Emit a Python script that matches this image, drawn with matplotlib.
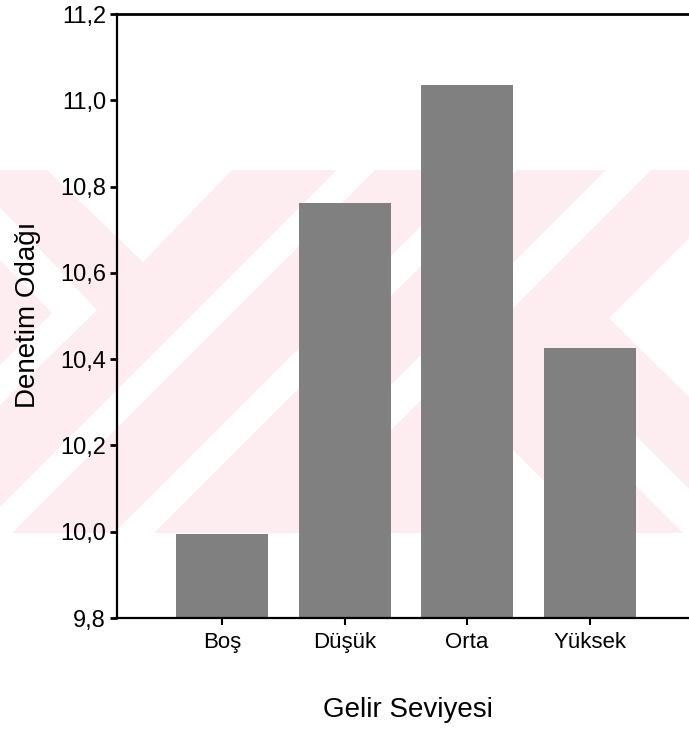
import matplotlib
matplotlib.use('Agg')
import matplotlib.pyplot as plt
from matplotlib.patches import Polygon, Rectangle

# data
categories = ['Boş', 'Düşük', 'Orta', 'Yüksek']
means = [9.994, 10.761, 11.035, 10.425]
yticks = [9.8, 10.0, 10.2, 10.4, 10.6, 10.8, 11.0, 11.2]
ytick_labels = ['9,8', '10,0', '10,2', '10,4', '10,6', '10,8', '11,0', '11,2']

plt.rcParams['font.family'] = ['Liberation Sans', 'DejaVu Sans']

fig = plt.figure(figsize=(6.89, 7.29), dpi=100)

# faint watermark behind the chart (pixel coordinates)
bg = fig.add_axes([0, 0, 1, 1], zorder=0)
bg.set_xlim(0, 689)
bg.set_ylim(729, 0)
bg.axis('off')
pink = '#fdedf0'
bg.add_patch(Rectangle((0, 170), 689, 363, color=pink, lw=0))
white_shapes = [
    [(47, 170), (232, 170), (143, 262)],
    [(0, 207), (97, 310), (0, 405)],
    [(337, 170), (375, 170), (12, 533), (0, 533), (0, 507)],
    [(477, 170), (517, 170), (154, 533), (114, 533)],
    [(606, 170), (651, 170), (320, 501), (320, 456)],
    [(609, 318), (689, 238), (689, 397)],
    [(555, 355), (689, 489), (689, 533), (683, 533), (555, 405)],
    [(500, 437), (596, 533), (500, 533)],
]
for pts in white_shapes:
    bg.add_patch(Polygon(pts, closed=True, color='white', lw=0))
bg.add_patch(Polygon([(0, 260), (52, 313), (0, 365)], closed=True, color=pink, lw=0))

ax = fig.add_axes([117 / 689, 1 - 618 / 729, 1 - 117 / 689, (618 - 14) / 729], zorder=1)
ax.patch.set_alpha(0)

x = list(range(len(categories)))
ax.bar(x, means, width=0.752, color='#808080', zorder=2)

ax.set_ylim(9.8, 11.2)
ax.set_xlim(-0.862, 3.813)
ax.set_yticks(yticks)
ax.set_yticklabels(ytick_labels)
ax.set_xticks(x)
ax.set_xticklabels(categories)

ax.spines['right'].set_visible(False)
for s in ['left', 'bottom']:
    ax.spines[s].set_linewidth(1.6)
ax.spines['top'].set_linewidth(2.0)

ax.tick_params(axis='y', direction='out', length=5, width=2, pad=3, labelsize=17)
ax.tick_params(axis='x', direction='out', length=5, width=1.5, pad=5, labelsize=16)

fig.text(28 / 689, 1 - 315 / 729, 'Denetim Odağı', rotation=90, ha='center', va='center', fontsize=20)
fig.text(408 / 689, 1 - 717 / 729, 'Gelir Seviyesi', ha='center', va='baseline', fontsize=20)

plt.savefig('out.png', dpi=100)
plt.close()
